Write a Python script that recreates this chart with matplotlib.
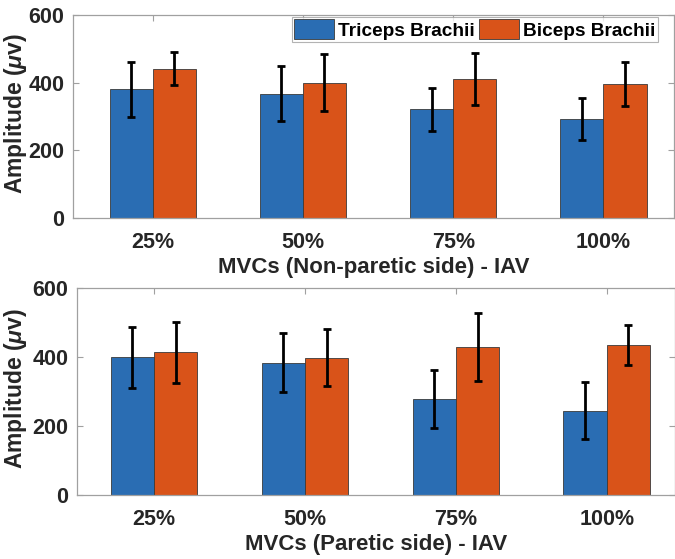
import matplotlib
matplotlib.use("Agg")
import matplotlib.pyplot as plt
import numpy as np

categories = ["25%", "50%", "75%", "100%"]
series_names = ["Triceps Brachii", "Biceps Brachii"]

# Non-paretic side
np_triceps = [380, 367, 321, 292]
np_triceps_err = [81, 81, 64, 62]
np_biceps = [441, 400, 411, 395]
np_biceps_err = [48, 85, 77, 65]

# Paretic side
p_triceps = [400, 384, 278, 245]
p_triceps_err = [88, 86, 84, 82]
p_biceps = [414, 398, 430, 435]
p_biceps_err = [88, 83, 98, 58]

yticks = [0, 200, 400, 600]
xlabels = ["MVCs (Non-paretic side) - IAV", "MVCs (Paretic side) - IAV"]
ylabel = r"Amplitude ($\mu$v)"

blue = "#2a6db3"
orange = "#d95319"

plt.rcParams['font.family'] = ['Liberation Sans', 'DejaVu Sans']
plt.rcParams['mathtext.fontset'] = 'custom'
plt.rcParams['mathtext.it'] = 'Liberation Sans:italic:bold'

fig = plt.figure(figsize=(6.75, 5.59), dpi=100)
ax1 = fig.add_axes([0.1077, 0.6106, 0.891, 0.3626])
ax2 = fig.add_axes([0.1136, 0.1145, 0.886, 0.3698])

def draw(ax, t, te, b, be, xlabel, xlim, ylab_x, legend=False):
    x = np.arange(1, len(categories) + 1)
    w = 0.287
    ax.bar(x - w / 2, t, w, color=blue, edgecolor="#3a3a3a", linewidth=0.6, label=series_names[0], zorder=2)
    ax.bar(x + w / 2, b, w, color=orange, edgecolor="#3a3a3a", linewidth=0.6, label=series_names[1], zorder=2)
    ax.errorbar(x - w / 2, t, yerr=te, fmt="none", ecolor="black", elinewidth=2, capsize=3, capthick=2, zorder=3)
    ax.errorbar(x + w / 2, b, yerr=be, fmt="none", ecolor="black", elinewidth=2, capsize=3, capthick=2, zorder=3)
    ax.set_xlim(*xlim)
    ax.set_ylim(0, 600)
    ax.set_yticks(yticks)
    ax.set_xticks(x)
    ax.set_xticklabels(categories)
    for s in ax.spines.values():
        s.set_color("#a0a0a0")
        s.set_linewidth(0.9)
    ax.tick_params(direction="in", length=4, width=0.8, color="#a0a0a0",
                   top=True, right=True, labelsize=15.5)
    ax.tick_params(axis="x", pad=10)
    ax.tick_params(axis="y", pad=6)
    for lab in ax.get_xticklabels() + ax.get_yticklabels():
        lab.set_fontweight("bold")
        lab.set_color("#262626")
    ax.set_xlabel(xlabel, fontsize=16, fontweight="bold", color="#262626", labelpad=3)
    ax.set_ylabel(ylabel, fontsize=16.5, fontweight="bold", color="#262626")
    ax.yaxis.set_label_coords(ylab_x, 0.515)
    if legend:
        leg = ax.legend(loc="upper right", ncol=2, prop={'weight': 'bold', 'size': 13.7},
                        frameon=True, fancybox=False, edgecolor="#a0a0a0",
                        handlelength=2.1, handleheight=1.25, columnspacing=0.25,
                        handletextpad=0.2, borderpad=0.12, borderaxespad=0.0,
                        bbox_to_anchor=(0.973, 0.99))
        leg.get_frame().set_linewidth(0.8)

draw(ax1, np_triceps, np_triceps_err, np_biceps, np_biceps_err, xlabels[0], (0.468, 4.47), -0.0727, legend=True)
draw(ax2, p_triceps, p_triceps_err, p_biceps, p_biceps_err, xlabels[1], (0.488, 4.45), -0.0798)

fig.savefig("out.png", dpi=100)
